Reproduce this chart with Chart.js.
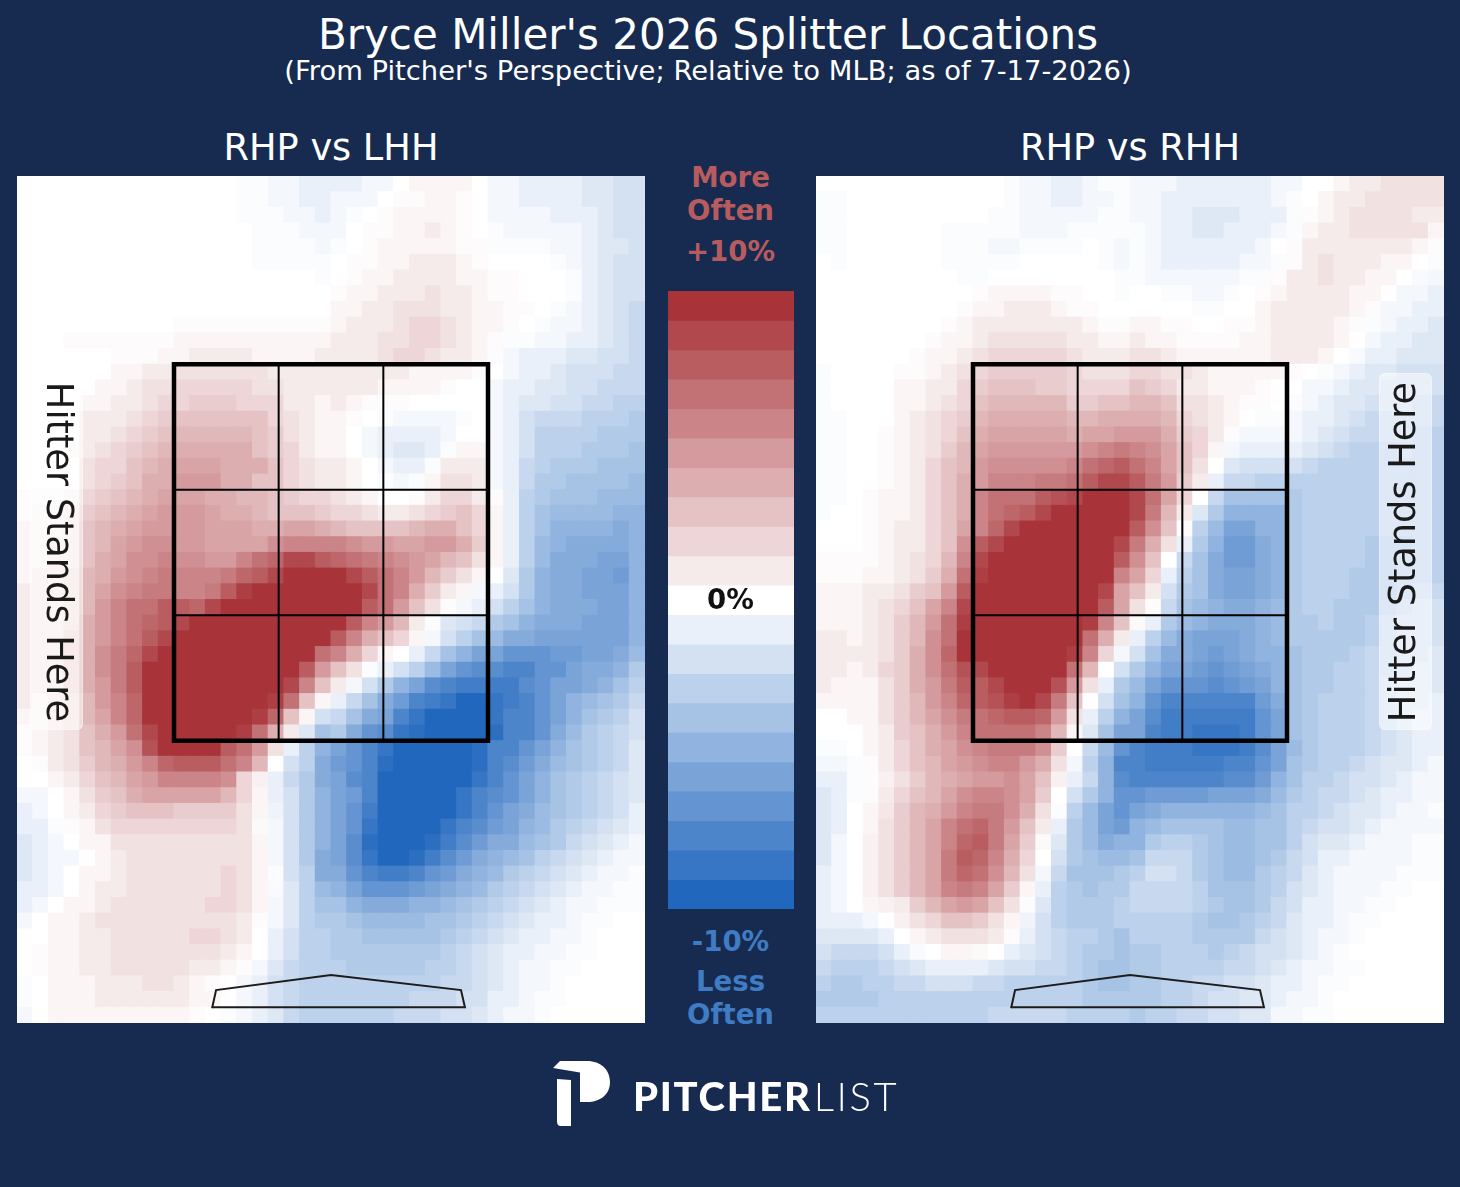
<!DOCTYPE html>
<html>
<head>
<meta charset="utf-8">
<title>Bryce Miller's 2026 Splitter Locations</title>
<script src="https://cdn.jsdelivr.net/npm/chart.js@4"></script>
<style>
  html, body { margin: 0; padding: 0; background: #162b4f; }
  #page { position: relative; width: 1460px; height: 1187px; overflow: hidden; background: #162b4f; font-family: "DejaVu Sans", sans-serif; }
  canvas { position: absolute; }
  #heatLhh, #heatRhh { background: #fff; }
  .txt { position: absolute; white-space: nowrap; transform: translate(-50%, -50%); line-height: 1; }
  .pill { position: absolute; width: 53px; height: 357px; top: 373px; background: rgba(255,255,255,0.5); border: 1px solid rgba(255,255,255,0.35); border-radius: 6px; box-sizing: border-box; }
  .standLabel { position: absolute; top: 552px; font-size: 36.7px; color: #1a1a1a; white-space: nowrap; line-height: 1; }
  .logoText { position: absolute; left: 633px; top: 1074px; font-family: "Lato", sans-serif; font-size: 40px; color: #fff; white-space: nowrap; line-height: 44px; }
</style>
</head>
<body>
<div id="page">
  <canvas id="heatLhh" width="628" height="847" style="left:17px;top:176px"></canvas>
  <canvas id="heatRhh" width="628" height="847" style="left:816px;top:176px"></canvas>
  <canvas id="scaleBar" width="126" height="618" style="left:668px;top:291px"></canvas>

  <div class="txt" style="left:708px;top:35px;font-size:42px;color:#fff">Bryce Miller's 2026 Splitter Locations</div>
  <div class="txt" style="left:708px;top:71px;font-size:27.4px;color:#fff">(From Pitcher's Perspective; Relative to MLB; as of 7-17-2026)</div>
  <div class="txt" style="left:331px;top:148px;font-size:36.7px;color:#fff">RHP vs LHH</div>
  <div class="txt" style="left:1130px;top:148px;font-size:36.7px;color:#fff">RHP vs RHH</div>

  <div class="txt" style="left:730.5px;top:178px;font-size:27.6px;font-weight:bold;color:#b85b5e">More</div>
  <div class="txt" style="left:730.5px;top:211px;font-size:27.6px;font-weight:bold;color:#b85b5e">Often</div>
  <div class="txt" style="left:730.5px;top:252px;font-size:27.6px;font-weight:bold;color:#b85b5e">+10%</div>
  <div class="txt" style="left:730.5px;top:600px;font-size:27.6px;font-weight:bold;color:#111">0%</div>
  <div class="txt" style="left:730.5px;top:942px;font-size:27.6px;font-weight:bold;color:#3f7cc4">-10%</div>
  <div class="txt" style="left:730.5px;top:982px;font-size:27.6px;font-weight:bold;color:#3f7cc4">Less</div>
  <div class="txt" style="left:730.5px;top:1015px;font-size:27.6px;font-weight:bold;color:#3f7cc4">Often</div>

  <div class="pill" style="left:30px"></div>
  <div class="standLabel" style="left:59px;transform:translate(-50%,-50%) rotate(90deg)">Hitter Stands Here</div>
  <div class="pill" style="left:1379px"></div>
  <div class="standLabel" style="left:1403px;transform:translate(-50%,-50%) rotate(-90deg)">Hitter Stands Here</div>

  <svg style="position:absolute;left:0;top:0" width="1460" height="1187">
    <path fill="#fff" d="M553 1068 L560 1061 H587 C601 1061 610 1070 610 1082 C610 1094 601 1102 587 1102 H580 V1072.5 Z"/>
    <path fill="#fff" d="M557 1079 L571 1080 V1126 H561 C558 1126 557 1124 557 1121 Z"/>
  </svg>
  <div class="logoText"><span style="font-weight:900;letter-spacing:1.7px">PITCHER</span><span style="font-weight:300;letter-spacing:2.6px;margin-left:2px">LIST</span></div>
</div>

<script>
// rows run top to bottom, columns left to right, values are percent vs MLB
const lhhRows = [
[0,0,0,0,0,0,0,0,0,0,0,0,0,0,-.2,-.2,-.5,-.5,-1,-1,-1,-1,-.5,-.5,0,.5,.5,.5,.5,0,-.5,-.5,-1,-1,-1,-1,-1.5,-1.5,-2,-2],
[0,0,0,0,0,0,0,0,0,0,0,0,0,0,-.2,-.2,-.5,-.5,-1,-1,-.5,-.5,-.5,0,.2,.2,.5,.5,.2,0,-.5,-.5,-1,-1,-1,-1,-1.5,-1.5,-2,-2],
[0,0,0,0,0,0,0,0,0,0,0,0,0,0,-.2,-.2,-.2,-.5,-.5,-1,-.5,-.2,0,.2,.5,.5,.5,.5,.2,0,-.5,-.5,-.5,-.5,-1,-1,-1,-1.5,-2,-2],
[0,0,0,0,0,0,0,0,0,0,0,0,0,0,0,-.2,-.2,-.2,-.5,-.5,-.5,0,.2,.2,.5,.5,1,.5,.2,0,-.2,-.5,-.5,-.5,-.5,-.5,-1,-1.5,-2,-2],
[0,0,0,0,0,0,0,0,0,0,0,0,0,0,0,-.2,-.2,-.2,-.2,-.5,-.2,0,.2,.5,.5,.5,.5,.5,.2,.2,-.2,-.2,-.2,-.2,-.5,-.5,-1,-1.5,-1.5,-2],
[0,0,0,0,0,0,0,0,0,0,0,0,0,0,0,-.2,-.2,-.2,-.2,-.2,0,.2,.2,.5,.5,1,1,1,.5,.2,0,0,0,0,-.2,-.5,-1,-1.5,-2,-2],
[0,0,0,0,0,0,0,0,0,0,0,0,0,0,0,0,0,0,0,-.2,0,.2,.5,.5,1,1,1,1,.5,.5,.2,.2,0,0,0,-.2,-1,-1.5,-2,-2],
[0,0,0,0,0,0,0,0,0,0,0,0,0,0,0,0,0,0,0,0,.2,.5,.5,1,1,1,1.5,1,1,.5,.2,.2,0,0,0,-.2,-1,-1.5,-2,-2],
[0,0,0,0,0,0,0,0,0,0,0,0,0,0,0,0,0,0,0,0,.5,.5,1,1,1.5,1.5,1.5,1,1,.5,.5,.2,.2,0,-.2,-.5,-1,-1.5,-2,-2.5],
[0,0,0,0,0,0,0,0,0,0,.2,.2,.2,.2,.2,.2,.2,.2,.2,.2,.5,1,1,1,1.5,2,2,1.5,1,.5,.5,.2,0,-.2,-.5,-.5,-1,-1.5,-2,-2.5],
[0,0,0,.2,.2,.2,.2,.2,.2,.2,.5,.5,.5,.5,.5,.5,.5,.5,.5,.5,1,1,1,1.5,1.5,2,2,1.5,1,.5,.2,-.2,-.2,-.5,-.5,-1,-1,-1.5,-2,-2.5],
[0,0,0,0,0,0,.2,.2,.2,.5,.5,1,1,1,1,.5,.5,.5,.5,1,1,1,1,1.5,2,2,1.5,1,1,.5,-.2,-.5,-1,-1,-1,-1.5,-1.5,-2,-2,-2.5],
[0,0,0,0,0,0,.5,.5,1,1,1.5,1.5,1.5,1.5,1.5,1.5,1,1,1,1,1,1,1,1,1,.5,.5,.5,.5,.2,0,-.5,-1,-1,-1.5,-2,-2,-2,-2.5,-2.5],
[0,0,0,0,0,.5,.5,1,1.5,1.5,2,2,2,2,2,1.5,1.5,1,1,1,1,1,1,.5,.5,.5,.5,.2,0,0,-.5,-1,-1,-1.5,-1.5,-2,-2,-2.5,-2.5,-2.5],
[0,0,0,0,.5,.5,1,1,1.5,2,2,2.5,2.5,2.5,2,2,2,1,1,.5,1,.5,.2,.2,.2,0,0,0,0,0,-.5,-1,-1.5,-1.5,-2,-2,-2.5,-2.5,-3,-3],
[0,0,0,0,1,1,1,1.5,2,2.5,3,3,3,3,3,3,2,1.5,1,.5,.5,.2,0,-.2,-.5,-.5,-.5,-.5,-.2,0,-.5,-1,-2,-2.5,-2.5,-2.5,-3,-3,-3,-3.5],
[0,0,0,0,1,1,1.5,2,2.5,3,3.5,3.5,3.5,3.5,3.5,3,2.5,1.5,1,.5,.5,0,-.5,-1,-1,-1,-1,-.5,0,0,-.5,-1,-2,-3,-3,-3,-3,-3.5,-3.5,-3.5],
[0,0,0,.5,1,1.5,2,2.5,3,3.5,4,4,4,4,4,3,2.5,2,1,.5,.5,0,-.5,-1,-1.5,-1.5,-1,-.2,.5,.5,-.5,-1,-2,-3,-3,-3,-3.5,-3.5,-3.5,-4],
[0,0,0,0,1.5,2,2,3,3.5,4,4.5,4.5,4.5,4,4,4,3,2,1.5,1,1,.5,0,-.5,-1,-1,-.2,1,1,1,-.5,-1,-2.5,-3,-3.5,-3.5,-3.5,-4,-4,-4],
[0,0,0,0,1.5,2,2.5,3,4,4,5,5,5,4,4,3,3,2,1.5,1,1,.5,0,-.2,-.5,-.2,.5,1.5,1.5,1,-.5,-1,-2.5,-3.5,-3.5,-4,-4,-4,-4,-4.5],
[.2,.2,.2,.5,2,2.5,3,3.5,4,4.5,4.5,4.5,4,4,3.5,3.5,3,2.5,2,2,1.5,1,.5,0,0,.2,1,2,2,1,.2,-1,-3,-3.5,-4,-4,-4,-4.5,-4.5,-4.5],
[.2,.5,.5,1,2.5,3,3.5,4,4.5,5,5,5,4.5,4,4,3.5,3,3,3,2.5,2,2,1.5,1,1,1.5,2,2.5,3,2,.5,-1,-3,-4,-4.5,-4.5,-4.5,-4.5,-5,-5],
[.5,.5,.5,1,3,3.5,4,4.5,5,5,5,5,4.5,4.5,4.5,4,4,4.5,4.5,4,3.5,3,3,3,3,3.5,4,4,3,2,.5,-1,-3,-4,-5,-5,-5,-5,-5.5,-5],
[.5,.5,1,1,3,3.5,4.5,5,5.5,5.5,5,5,4.5,4.5,4.5,4.5,5.5,6,6,6,6,5.5,5,5,4.5,4.5,5,5,4,2.5,.5,-1,-3,-4.5,-5,-5.5,-5.5,-5.5,-5.5,-5],
[.5,.5,1,1,3,4,4.5,5.5,5.5,6,5.5,5.5,5,5,6,7,7.5,9,9,8,7.5,7,6.5,6,5.5,5,4.5,3.5,3,1.5,.5,-1,-3,-4.5,-5.5,-5.5,-5.5,-6,-6,-5],
[.5,1,1,1.5,3.5,4,5,5.5,6,6.5,6,6,6,6.5,7.5,8,9,10,10,10,10,9,8,7,6,5,3.5,2.5,1.5,.5,0,-1.5,-3.5,-5,-5.5,-5.5,-6,-6,-6.5,-5],
[1,1,1,1.5,3.5,4.5,5.5,6,6.5,6.5,6,6,6.5,8,9.5,10,10,10,10,10,10,10,9,7,6,4,2.5,1,.5,-.5,-1,-2,-3.5,-5,-5.5,-5.5,-6,-6,-6,-5],
[1,1,1,1.5,3.5,5,6,7,7,8,8,7.5,9,10,10,10,10,10,10,10,10,10,8,7,5,3,1.5,.2,-.5,-1,-2,-3,-4,-5,-5.5,-5.5,-5.5,-6,-6,-5],
[1,1,1,1.5,4,5,6,7,7.5,8,9,10,10,10,10,10,10,10,10,10,10,8,6,5,3.5,1,-.2,-1.5,-2,-2.5,-3.5,-4,-5,-5.5,-5.5,-5.5,-6,-6,-6,-5],
[1,1,1,2,4,5,6,7,8,9,10,10,10,10,10,10,10,10,10,10,8,6,4,3,2,.5,-.5,-2,-3,-4,-4.5,-5.5,-5.5,-6,-6,-6,-6,-6,-6,-5],
[1,1,1,2,4,5.5,6.5,7.5,9,10,10,10,10,10,10,10,10,10,10,7,6,4,2,.5,0,-1,-2.5,-4,-5,-6,-6,-7,-7,-7,-6.5,-6.5,-6,-6,-5.5,-4.5],
[1,1,1,2,4,5.5,6.5,8,10,10,10,10,10,10,10,10,10,10,8,5,3,1.5,-.2,-1,-2,-3,-4.5,-6,-7,-7.5,-7.5,-8,-8,-7,-7,-6,-5.5,-5.5,-5,-3.5],
[1,1,1,2,4,5,6.5,8,10,10,10,10,10,10,10,10,10,9,6,3,1,-.5,-2,-3.5,-5,-6,-7.5,-8,-8.5,-8.5,-8.5,-8.5,-7.5,-7,-6,-6,-5.5,-5,-4,-3],
[1,.5,1,1.5,3.5,5,6,7.5,10,10,10,10,10,10,10,10,9.5,7,3,.5,-1,-2.5,-4,-5.5,-6.5,-8,-8.5,-9,-10,-10,-9,-8.5,-8,-7,-6,-5,-4.5,-4,-3.5,-2.5],
[.5,.5,1,1.5,3.5,4.5,6,7.5,10,10,10,10,10,10,10,9.5,7.5,3,.5,-2,-2.5,-4,-5.5,-6,-8,-9,-10,-10,-10,-10,-9,-8,-8,-7,-6,-5,-4,-3.5,-3,-2],
[.2,.5,1,1.5,3,4,5,7,9,10,10,10,10,10,9.5,7,4,1,-1.5,-4,-3.5,-5.5,-7,-7.5,-9,-9.5,-10,-10,-10,-10,-9.5,-8,-8,-7,-5.5,-4.5,-3.5,-3,-2.5,-2],
[.2,.5,1,1.5,3,3.5,4.5,5.5,8.5,10,10,10,10,8,7,5,1.5,-1,-3,-5,-6,-7,-8,-9,-10,-10,-10,-10,-10,-9.5,-8,-8,-7,-6,-5,-4,-3.5,-3,-2.5,-1.5],
[0,.2,1,1.5,2.5,3.5,4,5,6,7.5,8,8,8,7,6,3.5,0,-2,-3,-5.5,-6.5,-7,-8,-9.5,-10,-10,-10,-10,-10,-9.5,-8,-7.5,-6.5,-5.5,-4.5,-4,-3.5,-3,-2.5,-1.5],
[0,0,.5,1,2,3,3.5,4.5,5,6,6,6,6,5.5,2,.7,-1,-2.5,-3.5,-5.5,-6,-7.5,-8,-10,-10,-10,-10,-10,-10,-9,-8,-7,-6,-5,-4,-3.5,-3,-2.5,-2,-1.5],
[-.5,-.5,0,.5,1.5,2.5,3,4,4.5,4.5,4.5,4.5,4.5,3.5,2,.5,-1,-2,-3.5,-5,-6,-6.5,-8,-10,-10,-10,-10,-10,-9,-8,-7.5,-7,-6,-5,-4,-3.5,-3,-2.5,-2,-1.5],
[-1,-.5,0,.5,1,2,2.5,3,3,3,2.5,2.5,2.5,2.5,1.5,.5,-.7,-2,-3.5,-5,-6,-7,-8.5,-10,-10,-10,-10,-10,-9,-8,-7,-6,-5.5,-4.5,-4,-3.5,-3,-2.5,-2,-1],
[-1,-1,-.2,.2,.5,1.5,2,2,2,2,2,2,2,2,1.5,.3,-.5,-2,-3.5,-5,-6,-7,-9,-10,-10,-10,-10,-9,-8,-7.5,-6.5,-6,-5,-4.5,-3.5,-3,-2.5,-2,-1.5,-1],
[-1.5,-1,-.5,0,.5,.5,1.5,1.5,1.5,1.5,1.5,1.5,1.5,1.5,1.5,.5,-.5,-2,-3.5,-5,-6,-7.5,-9.5,-10,-10,-10,-9.5,-8.5,-7.5,-6.5,-5.5,-5.5,-4.5,-4,-3.5,-2.5,-2,-1.5,-1,-.5],
[-1.5,-1,-.5,-.5,0,.5,1,1.5,1.5,1.5,1.5,1.5,1.5,1.5,1.5,.5,-.5,-2,-3.5,-5.5,-6,-7.5,-9,-10,-10,-9.5,-8.5,-7.5,-6.5,-5.5,-5,-4.5,-4,-3,-2.5,-2,-1.5,-1,-.5,-.5],
[-1.5,-1,-.5,0,.5,.5,1,1.5,1.5,1.5,1.5,1.5,1.5,2,1.5,.5,-.2,-2,-3,-5.5,-5.5,-7,-8,-8.5,-8.5,-8,-7,-6.5,-5.5,-5,-4.5,-3.5,-3,-2.5,-2,-1.5,-1,-.5,-.5,-.2],
[-1,-1,-.5,0,.5,1,1,1.5,1.5,1.5,1.5,1.5,1.5,2,1.5,.5,-.3,-1.5,-3,-4.5,-5,-6,-7,-7,-7,-6.5,-6,-5.5,-5,-4.5,-3.5,-3,-2.5,-2,-1.5,-1,-.5,-.5,-.2,-.2],
[-1,-.5,0,.5,.5,1,1.5,1.5,1.5,1.5,1.5,1.5,2,2,1.5,.5,-.5,-1.5,-3,-4,-4,-5,-5.5,-5.5,-5.5,-5,-5,-4.5,-4,-3.5,-3,-2.5,-2,-1.5,-1,-.5,-.5,-.2,-.2,-.2],
[-.5,0,.5,.5,1,1.5,1.5,1.5,1.5,1.5,1.5,1.5,1.5,1.5,1,.2,-.5,-1.5,-3,-3.5,-3.5,-4,-4.5,-4.5,-4.5,-4.5,-4,-4,-3.5,-3,-2.5,-2,-1.5,-1,-1,-.5,-.2,-.2,0,0],
[0,0,.5,.5,1,1,1.5,1.5,1.5,1.5,1.5,2,2,1.5,1,0,-1,-2,-3,-3,-3.5,-3.5,-4,-4,-4,-4,-4,-3.5,-3,-2.5,-2,-1.5,-1,-1,-.5,-.5,-.2,0,0,0],
[0,.2,.5,.5,1,1,1.5,1.5,1.5,1.5,1.5,1.5,1.5,1,.5,0,-1,-2,-3,-3,-3.5,-3.5,-3.5,-3.5,-3.5,-3.5,-3.5,-3,-2.5,-2,-1.5,-1,-1,-.5,-.5,-.2,-.2,0,0,0],
[0,.2,.5,.5,1,1,1.5,1.5,1.5,1.5,1.5,1,1,.5,.2,-.5,-1.5,-2.5,-3,-3,-3,-3.5,-3.5,-3.5,-3.5,-3.5,-3,-3,-2.5,-2,-1.5,-1,-.5,-.5,-.2,-.2,0,0,0,0],
[-.2,0,.5,.5,.5,1,1,1,1.5,1.5,1,.5,.2,0,-.5,-1,-2,-2.5,-3,-3,-3,-3,-3,-3,-3,-3,-3,-2.5,-2.5,-2,-1.5,-1,-.5,-.5,-.2,0,0,0,0,0],
[-.2,0,.5,.5,.5,1,1,1,1,1,1,.5,.5,0,-.5,-1,-2,-2.5,-3,-3,-3,-3,-3,-3,-3,-2.5,-2.5,-2.5,-2,-2,-1,-1,-.5,-.2,-.2,0,0,0,0,0],
[-.5,0,.5,.5,.5,.5,.5,.5,.5,.5,.5,.2,0,-.2,-.5,-1,-1.5,-2.5,-3,-3,-3,-3,-3,-3,-2.5,-2.5,-2.5,-2,-2,-1.5,-1,-.5,-.5,-.2,0,0,0,0,0,0],
];

const rhhRows = [
[0,0,0,0,0,0,0,0,0,0,0,0,-.2,-.5,-.5,-1,-1,-.5,-.2,-.2,-.5,-.5,-.5,-1,-1,-1,-1,-1,-1,-.5,-.5,0,0,.5,1,1,1.5,1.5,1.5,1.5],
[-.2,-.2,0,0,0,0,0,0,0,0,0,0,-.2,-.5,-.5,-1,-1,-.5,-.5,-.2,-.5,-.5,-1,-1,-1,-1,-1,-1,-1,-.5,-.2,0,.5,1,1,1.5,1.5,1.5,1.5,1.5],
[-.2,-.2,0,0,0,0,0,0,0,0,0,-.2,-.2,-.5,-.5,-.5,-.5,-.5,-.2,-.2,-.5,-.5,-1,-1,-1.5,-1.5,-1.5,-1,-1,-1,-.2,.2,.5,1,1.5,1.5,1.5,1.5,1,1],
[-.2,-.2,0,0,0,0,0,0,-.2,-.2,-.2,-.2,-.2,-.5,-.5,-.5,-.2,-.2,-.2,-.2,-.2,-.5,-1,-1,-1.5,-1.5,-1,-1,-1,-.5,-.2,.5,1,1,1.5,1.5,1.5,1.5,1.5,.5],
[-.2,-.2,0,0,0,0,0,0,-.2,-.2,-.2,-.5,-.5,-.2,-.2,-.2,-.2,0,-.2,-.5,-.2,-.5,-1,-1,-1,-1,-1,-1,-.5,0,.2,1,1,1,1,1,1,1,.5,.2],
[0,-.2,0,0,0,0,0,0,-.2,-.2,-.2,-.2,-.2,0,0,0,0,0,-.2,-.5,-.2,-.5,-1,-1,-1,-1,-1,-.5,-.5,-.2,.2,1,1.5,1,1,1,.5,.5,0,-.2],
[0,0,0,0,0,0,0,0,0,-.2,-.2,0,0,0,0,0,0,0,0,-.2,-.2,-.5,-.5,-.5,-.5,-.5,-.5,-.2,-.2,.2,1,1,1.5,1,1,.5,.5,0,-.3,-.5],
[0,0,0,0,0,0,0,0,0,0,.2,.5,.5,.5,.5,.2,.2,0,0,-.2,0,0,-.2,-.2,-.5,-.5,-.2,0,.2,.5,1,1,1,1,.5,.5,0,-.5,-.5,-1],
[0,0,0,0,0,0,0,0,0,.2,.5,.5,1,1,1,.5,.2,.2,0,0,0,0,0,0,-.2,-.2,0,0,.5,1,1,1,1,1,.5,.2,-.5,-.5,-1,-1],
[0,0,0,0,0,0,0,0,.2,.5,1,1,1,1,1,1,1,.5,.2,.2,.5,.5,.2,.2,0,0,.2,.2,.5,1,1,1,1,.5,.2,-.2,-.5,-1,-1,-1.5],
[0,0,0,0,0,0,0,.2,.5,.5,1,1.5,1.5,1.5,1.5,1.5,1,1,.5,.5,1,.5,.5,.2,.2,.2,.2,.5,.5,1,1,1,1,.5,0,-.5,-1,-1,-1.5,-1.5],
[0,0,0,0,0,0,.2,.5,.5,1,1.5,2,2,2,2,2,1.5,1,1,1,1.5,1.5,1,.5,.5,.5,.5,.5,.5,1,1,1,.5,0,-.3,-1,-1,-1.5,-1.5,-1.5],
[-.2,0,0,0,0,.2,.2,.5,1,1.5,2,2.5,2.5,2.5,2.5,2.5,2,1.5,1.5,1.5,2,2,1.5,1.5,1,.5,.5,.5,.5,.5,.2,0,-.2,-.5,-1,-1.5,-1.5,-2,-2,-2],
[-.2,0,0,0,0,.5,.5,1,1,2,2.5,3,3,3,2.5,2.5,2,2,2,2,3,2.5,2,1,1,.5,.5,.5,.2,0,0,-.5,-.5,-1,-1.5,-1.5,-2,-2,-2,-2],
[-.2,0,0,0,0,.5,.5,1,1.5,2,3,3.5,3.5,3.5,3.5,3.5,2.5,2.5,3,3,3.5,3.5,3,1.5,1.5,1,.5,.2,.2,0,-.2,-.5,-1,-1.5,-1.5,-2,-2,-2,-2.5,-2.5],
[-.2,-.2,0,0,0,.5,1,1.5,2,2.5,3.5,4,4,4,4,4,3.5,3.5,4,4,4,4,3.5,2,1.5,1,.5,0,-.2,-.2,-.5,-1,-1,-1.5,-2,-2.5,-2.5,-2.5,-2.5,-2.5],
[-.2,-.2,0,0,.2,.5,1,1.5,2,3,4,4.5,4.5,4.5,4.5,4.5,4,4.5,4.5,5,5,5,4,2.5,2,1,.2,-.5,-.5,-.5,-.5,-1,-1.5,-2,-2.5,-2.5,-2.5,-2.5,-3,-3],
[-.2,-.2,0,0,.2,.5,1,1.5,2.5,3.5,4.5,5,5,5,5,5,5,5.5,6,6.5,6,5.5,4.5,3,2,.5,-.5,-1,-1,-1,-1,-1.5,-2,-2.5,-3,-3,-3,-2.5,-3,-3],
[-.2,-.2,0,0,.2,.5,1,2,3,3.5,5,5.5,5.5,5.5,5.5,5.5,6,7,7.5,8,7,6,4.5,3,1.5,0,-1.5,-2,-2,-2,-2,-2.5,-3,-3,-3,-3,-3,-3,-3,-3],
[-.2,-.2,0,0,.2,.5,1,2,3,4,5,6,6,6,6.5,6.5,7,8,9,9,8,6.5,5,2.5,1,-1,-2.5,-2.5,-3,-3,-3,-3,-3,-3,-3,-3,-3,-3,-3,-3],
[-.2,-.2,0,.2,.5,.5,1,2,3,4,6,7,7,7,8,8.5,9,10,10,10,9,7,4.5,2,0,-2.5,-4,-4,-4,-4,-3.5,-3,-3,-3,-3,-3,-3,-3,-3,-3],
[-.2,0,0,.2,.5,.5,1,2,3,4,6,7,7.5,8,9,10,10,10,10,10,9,6.5,3.5,1,-1.5,-3.5,-5,-5,-5,-5,-3.5,-3,-3,-3,-3,-3,-3,-3,-3,-3],
[0,0,0,.2,.5,1,1,2,3,4.5,6,7.5,9,10,10,10,10,10,10,10,8,5.5,3,.2,-3,-4.5,-6,-6,-5,-5,-3.5,-3,-3,-3,-3,-3,-3,-3,-3,-3],
[0,0,0,.2,.5,1,1,2,3,5.5,8,9,10,10,10,10,10,10,10,9,6.5,4,1.5,-1,-3.5,-5,-6.5,-6.5,-5.5,-5,-3.5,-3,-3,-3,-3,-3.5,-3.5,-3.5,-3,-3],
[.2,.2,.2,.2,.5,1,1.5,2,3.5,6,9,10,10,10,10,10,10,10,10,8,5.5,3,0,-2.5,-4,-5.5,-6.5,-6.5,-5.5,-5,-3.5,-3,-3,-3,-3,-3.5,-3.5,-3,-3,-3],
[.2,.2,.2,.5,.5,1,1.5,2.5,4,7,9.5,10,10,10,10,10,10,10,10,6,4.5,2,-1,-3,-4,-5.5,-6,-6,-5.5,-5,-3.5,-3,-3,-3,-3.5,-3.5,-3.5,-3,-3,-3],
[.5,.5,.5,1,1,1.5,2.5,3,5,8,10,10,10,10,10,10,10,10,9,4.5,3,1,-2,-3.5,-4,-5.5,-6,-6,-5.5,-5,-3.5,-3,-3,-3,-3.5,-3.5,-3.5,-3,-2.5,-2.5],
[.5,.5,.5,1,1.5,2,3,4.5,6,9,10,10,10,10,10,10,10,10,8,4.5,1.5,.2,-2.5,-4,-4.5,-5,-5.5,-5.5,-5,-4.5,-3.5,-3,-3,-3.5,-3.5,-3.5,-3,-2.5,-2,-2],
[.5,.5,.5,1,1.5,2.5,3.5,5,7,9.5,10,10,10,10,10,10,10,9.5,6,3,.3,-1,-3.5,-4.5,-5,-5.5,-5.5,-5.5,-5,-4.5,-3.5,-3.5,-3,-3.5,-3.5,-3,-2.5,-2,-2,-2],
[1,1,.5,1,1.5,2.5,3.5,5.5,7,10,10,10,10,10,10,10,10,7,4,1,-1,-3,-4.5,-5.5,-6,-6,-6,-5.5,-5,-4.5,-3.5,-3.5,-3.5,-3.5,-3.5,-3,-2.5,-2,-2,-2],
[1,1,1,1,1.5,2.5,4,5.5,7.5,10,10,10,10,10,10,10,9.5,6,2,-.5,-2,-4,-5.5,-5.5,-6,-6.5,-6,-5.5,-5,-5,-4,-3.5,-3.5,-3.5,-3,-2.5,-2.5,-2,-2,-1.5],
[1,1,.5,1,2,2.5,4,5.5,7,8.5,9,10,10,10,10,10,7,3.5,0,-2,-3.5,-5,-6,-6,-6.5,-7,-6.5,-6,-5.5,-5,-4,-3.5,-3.5,-3,-3,-2.5,-2.5,-2,-1.5,-1.5],
[1,.5,.5,.5,1.5,2.5,4,5,6.5,8,8,9,10,10,10,8.5,5,1.5,-1,-3.5,-4.5,-6,-7,-7,-7,-7.5,-7,-6.5,-6,-5,-4,-3.5,-3.5,-3,-3,-2.5,-2,-1.5,-1.5,-1.5],
[.5,.5,.5,.5,1.5,2.5,3.5,5,6,7.5,8,8.5,9.5,10,9,6.5,3,0,-2,-4,-5,-7,-8,-8,-8,-8,-8,-8,-6.5,-5.5,-4,-3.5,-3,-3,-3,-2.5,-2,-1.5,-1.5,-1],
[0,0,.5,.5,1.5,2.5,3.5,4.5,5.5,6.5,7,7.5,8,8,7.5,5,1.5,-1,-3,-5,-6,-7.5,-8.5,-8.5,-8.5,-8.5,-8.5,-8.5,-7,-6,-4,-3.5,-3,-3,-3,-2.5,-2,-1.5,-1,-1],
[0,0,0,.5,1,2.5,3,4,5,6,7,7,7,7,6,3.5,.5,-1.5,-4,-6,-6,-8,-8.5,-8.5,-9,-9,-9,-8.5,-7,-6,-4,-3.5,-3,-3,-3,-2.5,-2,-1.5,-1,-1],
[-.2,-.2,0,.5,1,2,3,4,4.5,5.5,6,6.5,6.5,6.5,5.5,2.5,0,-2.5,-4.5,-7,-8,-8.5,-8.5,-8.5,-9,-9,-9,-8.5,-7.5,-6,-4.5,-3.5,-3,-3,-3,-2.5,-2,-1.5,-1,-1],
[-.5,-.5,-.2,.2,1,2,3,3.5,4.5,5,5.5,6,6,5,4,1.5,-.5,-3,-5,-8,-8,-8.5,-8.5,-8.5,-8.5,-8.5,-8,-8,-7,-6,-4,-3.5,-3,-3,-2.5,-2,-1.5,-1.5,-1,-.5],
[-1,-1,-.2,.2,.7,1.5,2.5,3.5,4,4.5,5,5,5.5,4.5,3,.7,-1,-2.5,-5,-7.5,-8,-8,-8,-8,-8,-8,-7.5,-7.5,-6.5,-5,-4,-3,-3,-2.5,-2,-2,-1.5,-1,-.5,-.5],
[-1.5,-1,-.2,.2,1,2,3,3.5,4.5,5.5,6,6,5.5,4.5,2.5,0,-2,-3.5,-5,-7,-7,-6.5,-6.5,-6.5,-6.5,-6,-6,-6,-5.5,-4.5,-3.5,-3,-2.5,-2.5,-2,-1.5,-1,-1,-.5,-.5],
[-1.5,-1,0,.5,1.2,2.5,3.5,4,5,6,6.5,6.5,5.5,4,1.5,-.2,-3,-4.5,-6,-7,-6,-5.5,-5,-5,-5,-5,-5,-5,-4.5,-4,-3,-3,-2.5,-2,-1.5,-1.5,-1,-.5,-.5,-.2],
[-1.5,-1,0,.5,1.5,2.5,3.5,4.5,6,7,7.5,6.5,5,3,1,-1,-3.5,-4.5,-6,-6.5,-5,-4.5,-4,-4,-4,-4,-4.5,-4.5,-4,-4,-3,-2.5,-2,-2,-1.5,-1,-.5,-.5,-.5,-.5],
[-1.5,-.5,0,.7,1.5,2.5,3.5,4.5,6,7.5,8,6.5,4.5,2.5,.3,-1.5,-3.5,-4.5,-5.5,-5,-5,-3.5,-3,-3,-3.5,-4,-4.5,-4.5,-4,-4,-3,-2,-1.5,-1.5,-1,-.5,-.5,-.5,-.2,-.2],
[-1.5,-.5,0,.7,1.5,2.5,3.5,4.5,6.5,8,7.5,6,4,2,0,-2,-3.5,-4,-4.5,-4.5,-4,-2.5,-2.5,-2.5,-3.5,-4,-4.5,-4.5,-4,-3.5,-2.5,-2,-1,-1,-.5,-.5,-.5,-.5,-.2,-.2],
[-1,-.5,0,.7,1.5,2.5,3.5,4.5,6.5,7.5,7,5.5,3.5,1.5,-.5,-2.5,-4,-4,-4,-3.5,-3,-2,-2,-2.5,-3.5,-4,-4.5,-4.5,-3.5,-3,-2.5,-1.5,-1,-.5,-.5,-.5,-.5,-.2,-.2,-.2],
[-1,-.5,0,.7,1.5,2.5,3.5,4.5,6,6.5,6,4.5,2.5,.5,-1,-3,-3.5,-4,-3.5,-3.5,-2.5,-2.5,-2.5,-2.5,-3,-4,-4,-4,-3.5,-3,-2,-1.5,-1,-.5,-.5,-.5,-.2,-.2,0,0],
[-1,-.5,0,.5,.7,1,2.5,3.5,4.5,5,4.5,3,1.5,-.2,-1.5,-3,-3.5,-3.5,-3.5,-3,-2.5,-2.5,-2.5,-2.5,-3,-3.5,-4,-4,-3.5,-2.5,-2,-1,-1,-.5,-.5,-.2,-.2,0,0,0],
[-1,-1,-1,-.5,0,.7,1.5,2,3,3,2.5,1.5,.5,-.7,-2,-3,-3.5,-3.5,-3.5,-3,-3,-3,-3,-3,-3.5,-4,-4,-3.5,-3,-2.5,-1.5,-1,-1,-.5,-.2,-.2,0,0,0,0],
[-1.5,-1.5,-1.5,-1.5,-1,0,.5,1,1.5,1.5,1.5,1,.2,-1,-2,-2.5,-3,-3,-3.5,-4,-3,-3,-3,-3,-3.5,-3.5,-3.5,-3.5,-2.5,-2,-1.5,-1,-.5,-.5,-.2,0,0,0,0,0],
[-2,-2.5,-2.5,-2.5,-2,-1,-.3,0,.5,.5,.3,0,-1,-1.5,-2,-2.5,-3,-3.5,-3.5,-4,-3.5,-3.5,-3,-3,-3,-3.5,-3,-2.5,-2,-2,-1.5,-1,-.5,-.2,0,0,0,0,0,0],
[-2.5,-3,-3,-3,-2.5,-2,-1.5,-1,-1,-1,-1,-1.5,-2,-2,-2.5,-2.5,-3,-3.5,-4,-4,-3.5,-3.5,-3,-3,-3,-3,-2.5,-2.5,-2,-1.5,-1,-.5,-.5,-.2,-.2,0,0,0,0,0],
[-3,-3.5,-3.5,-3,-3,-2.5,-2.5,-2,-2,-2,-2.5,-2.5,-3,-3,-3,-3,-3,-3.5,-4,-4,-3.5,-3.5,-3,-3,-2.5,-2.5,-2,-2,-1.5,-1,-1,-.5,-.2,-.2,0,0,0,0,0,0],
[-3.5,-3.5,-3.5,-3.5,-3,-3,-3,-3,-3,-3,-3,-3,-3,-3,-3,-3,-3,-3.5,-3.5,-3.5,-3.5,-3.5,-3,-3,-2.5,-2,-2,-1.5,-1.5,-1,-.5,-.5,-.2,0,0,0,0,0,0,0],
[-3,-3,-3,-3,-3,-3,-3,-3,-3,-3,-3,-2.5,-2.5,-2.5,-2.5,-2.5,-3,-3,-3,-3,-3.5,-3,-3,-2.5,-2.5,-2,-2,-1.5,-1.5,-.5,-.5,-.2,-.2,0,0,0,0,0,0,0],
];

const scaleLevels = [10, 9, 8, 7, 6, 5, 4, 3, 2, 1, 0, -1, -2, -3, -4, -5, -6, -7, -8, -9, -10];

// strike zone and home plate, feet from the centre of the plate / from the ground
const zoneX = [-1, 1, 1, -1, -1];
const zoneY = [1.8, 1.8, 4.2, 4.2, 1.8];
const zoneColX = [-1 / 3, 1 / 3];
const zoneRowY = [2.6, 3.4];
const plateX = [-0.756, 0.853, 0.828, 0, -0.732, -0.756];
const plateY = [0.1, 0.1, 0.21, 0.306, 0.21, 0.1];

const xMin = -2, xMax = 2, yMin = 0, yMax = 5.4, cellFeet = 0.1;

const redEnd = [168, 52, 58];
const blueEnd = [33, 103, 190];

function colorFor(value) {
  const end = value >= 0 ? redEnd : blueEnd;
  const t = Math.min(Math.abs(value) / 10, 1);
  const mix = end.map((c) => Math.round(255 + (c - 255) * t));
  return `rgb(${mix[0]}, ${mix[1]}, ${mix[2]})`;
}

function cellsFrom(rows) {
  const cells = [];
  rows.forEach((row, r) => {
    row.forEach((v, c) => {
      cells.push({ x: xMin + (c + 0.5) * cellFeet, y: yMax - (r + 0.5) * cellFeet, v });
    });
  });
  return cells;
}

function lineSet(xs, ys, color, width) {
  return {
    type: "line",
    data: xs.map((x, i) => ({ x, y: ys[i] })),
    borderColor: color,
    borderWidth: width,
    borderJoinStyle: "miter",
    borderCapStyle: "square",
    pointRadius: 0,
    tension: 0,
    fill: false,
    order: 0,
    clip: false,
  };
}

function desenharHeatmap(id, rows) {
  const datasets = [
    lineSet(zoneX, zoneY, "#000", 4.5),
    lineSet([zoneColX[0], zoneColX[0]], [zoneY[0], zoneY[2]], "#000", 2),
    lineSet([zoneColX[1], zoneColX[1]], [zoneY[0], zoneY[2]], "#000", 2),
    lineSet([zoneX[0], zoneX[1]], [zoneRowY[0], zoneRowY[0]], "#000", 2),
    lineSet([zoneX[0], zoneX[1]], [zoneRowY[1], zoneRowY[1]], "#000", 2),
    lineSet(plateX, plateY, "#1c1c1c", 2),
    {
      type: "scatter",
      data: cellsFrom(rows),
      order: 1,
      pointStyle: "rect",
      borderWidth: 0,
      pointBorderWidth: 0,
      pointRadius: (ctx) => {
        const scale = ctx.chart.scales.x;
        const side = Math.abs(scale.getPixelForValue(cellFeet) - scale.getPixelForValue(0)) + 1;
        return side / Math.SQRT2;
      },
      pointBackgroundColor: (ctx) => colorFor(ctx.raw ? ctx.raw.v : 0),
    },
  ];

  return new Chart(document.getElementById(id), {
    type: "scatter",
    data: { datasets },
    options: {
      responsive: false,
      animation: false,
      events: [],
      layout: { padding: 0 },
      plugins: { legend: { display: false }, tooltip: { enabled: false } },
      scales: {
        x: { type: "linear", min: xMin, max: xMax, display: false },
        y: { type: "linear", min: yMin, max: yMax, display: false },
      },
    },
  });
}

function desenharEscala() {
  return new Chart(document.getElementById("scaleBar"), {
    type: "bar",
    data: {
      labels: ["escala"],
      datasets: scaleLevels.map((level) => ({
        data: [[level - 0.5, level + 0.5]],
        backgroundColor: colorFor(level),
        borderWidth: 0,
        barPercentage: 1,
        categoryPercentage: 1,
        grouped: false,
      })),
    },
    options: {
      responsive: false,
      animation: false,
      events: [],
      layout: { padding: 0 },
      plugins: { legend: { display: false }, tooltip: { enabled: false } },
      scales: {
        x: { display: false },
        y: { min: -10.5, max: 10.5, display: false },
      },
    },
  });
}

desenharHeatmap("heatLhh", lhhRows);
desenharHeatmap("heatRhh", rhhRows);
desenharEscala();
</script>
</body>
</html>
